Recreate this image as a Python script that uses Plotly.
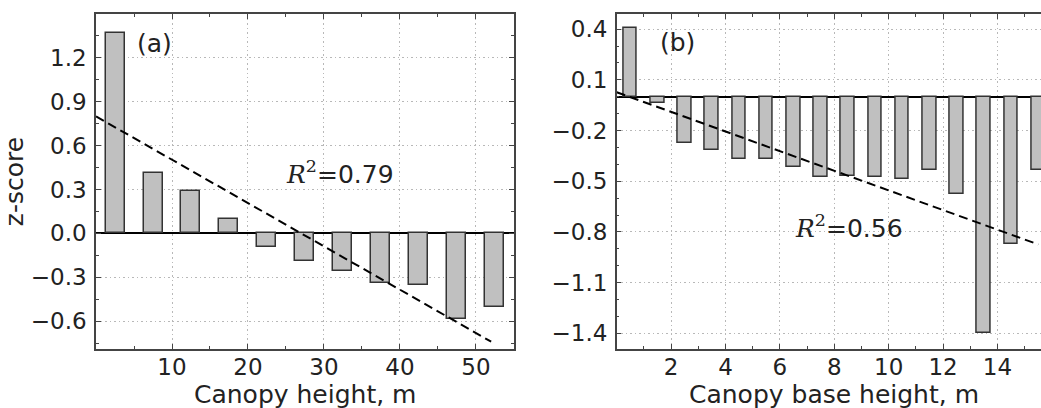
import plotly.graph_objects as go

# ---- data (a): canopy height ----
a_x = [2.5, 7.5, 12.5, 17.5, 22.5, 27.5, 32.5, 37.5, 42.5, 47.5, 52.5]
a_z = [1.37, 0.41, 0.29, 0.10, -0.09, -0.185, -0.256, -0.34, -0.354, -0.586, -0.50]
a_fit_x = [0, 52]
a_fit_y = [0.80, -0.74]
a_xticks = [10, 20, 30, 40, 50]
a_yticks = [-0.6, -0.3, 0.0, 0.3, 0.6, 0.9, 1.2]

# ---- data (b): canopy base height ----
b_x = [0.5, 1.5, 2.5, 3.5, 4.5, 5.5, 6.5, 7.5, 8.5, 9.5, 10.5, 11.5, 12.5, 13.5, 14.5, 15.5]
b_z = [0.41, -0.035, -0.272, -0.314, -0.369, -0.369, -0.417, -0.474, -0.466,
       -0.474, -0.484, -0.434, -0.578, -1.397, -0.874, -0.434]
b_fit_x = [0, 15.5]
b_fit_y = [0.027, -0.874]
b_xticks = [2, 4, 6, 8, 10, 12, 14]
b_yticks = [-1.4, -1.1, -0.8, -0.5, -0.2, 0.1, 0.4]

FONT = "DejaVu Sans"
BAR_FILL = "#c0c0c0"
EDGE = "#333333"
SPINE = "#444444"
GRID = "#b8b8b8"
TXT = "#222222"
TICK_SIZE = 23
TITLE_SIZE = 25
GRID_DASH = "1.5px,3px"
FIT_DASH = "9px,5px"

fig = go.Figure()
fig.add_trace(go.Bar(x=a_x, y=a_z, width=2.5, marker=dict(color=BAR_FILL, line=dict(color=EDGE, width=1.5)),
                     xaxis="x", yaxis="y", showlegend=False))
fig.add_trace(go.Scatter(x=a_fit_x, y=a_fit_y, mode="lines", line=dict(color="black", width=2, dash=FIT_DASH),
                         xaxis="x", yaxis="y", showlegend=False))
fig.add_trace(go.Bar(x=b_x, y=b_z, width=0.5, marker=dict(color=BAR_FILL, line=dict(color=EDGE, width=1.5)),
                     xaxis="x2", yaxis="y2", showlegend=False))
fig.add_trace(go.Scatter(x=b_fit_x, y=b_fit_y, mode="lines", line=dict(color="black", width=2, dash=FIT_DASH),
                         xaxis="x2", yaxis="y2", showlegend=False))

def xax(domain, rng, ticks, minor, anchor):
    return dict(domain=domain, range=rng, anchor=anchor, tickvals=ticks, ticks="inside", ticklen=5, tickwidth=1,
                tickcolor=SPINE, showline=True, linecolor=SPINE, linewidth=1.5, mirror="allticks",
                showgrid=True, gridcolor=GRID, griddash=GRID_DASH, gridwidth=1, zeroline=False,
                minor=dict(dtick=minor, tick0=0, ticks="inside", ticklen=3, tickcolor=SPINE, showgrid=False),
                tickfont=dict(family=FONT, size=TICK_SIZE, color=TXT), ticklabelstandoff=-3,
                automargin=False)

def yax(anchor, rng, ticks, minor, mirror, title=None):
    d = dict(anchor=anchor, range=rng, tickvals=ticks, tickformat=".1f", ticks="inside", ticklen=5,
             tickwidth=1, tickcolor=SPINE, showline=True, linecolor=SPINE, linewidth=1.5, mirror=mirror,
             showgrid=True, gridcolor=GRID, griddash=GRID_DASH, gridwidth=1,
             zeroline=True, zerolinecolor="black", zerolinewidth=1.5,
             minor=dict(dtick=minor, tick0=0, ticks="inside", ticklen=3, tickcolor=SPINE, showgrid=False),
             tickfont=dict(family=FONT, size=TICK_SIZE, color=TXT), ticklabelstandoff=3, automargin=False)
    if title:
        d["title"] = dict(text=title, font=dict(family=FONT, size=TITLE_SIZE, color=TXT), standoff=4)
    return d

title_font = dict(family=FONT, size=TITLE_SIZE, color=TXT)

fig.update_layout(
    width=1041, height=408,
    margin=dict(l=96, r=0, t=14, b=59),
    paper_bgcolor="white", plot_bgcolor="white",
    bargap=0,
    xaxis=xax([0, 0.4423], [0.0, 55.0], a_xticks, 5, "y"),
    yaxis=yax("x", [-0.79, 1.5], a_yticks, 0.15, "allticks", "z-score"),
    xaxis2=xax([0.551, 1.0], [0.0, 15.6], b_xticks, 1, "y2"),
    yaxis2=yax("x2", [-1.493, 0.49], b_yticks, 0.1, False),
    annotations=[
        dict(x=0.5, y=0, xref="x domain", yref="paper", text="Canopy height, m", showarrow=False,
             xanchor="center", yanchor="middle", yshift=-45, font=title_font),
        dict(x=0.5, y=0, xref="x2 domain", yref="paper", text="Canopy base height, m", showarrow=False,
             xanchor="center", yanchor="middle", yshift=-45, xshift=5, font=title_font),
        dict(x=5.1, y=1.30, xref="x", yref="y", text="(a)", showarrow=False, xanchor="left", yanchor="middle",
             font=title_font),
        dict(x=32.1, y=0.415, xref="x", yref="y",
             text='<span style="font-family:DejaVu Serif"><i>R</i><sup>2</sup></span>=0.79',
             showarrow=False, xanchor="center", yanchor="middle", font=title_font),
        dict(x=1.53, y=0.32, xref="x2", yref="y2", text="(b)", showarrow=False, xanchor="left", yanchor="middle",
             font=title_font),
        dict(x=8.54, y=-0.766, xref="x2", yref="y2",
             text='<span style="font-family:DejaVu Serif"><i>R</i><sup>2</sup></span>=0.56',
             showarrow=False, xanchor="center", yanchor="middle", font=title_font),
    ],
)

fig.write_html("out.html", config={"displayModeBar": False},
               post_script="document.body.style.margin='0';document.body.style.overflow='hidden';")
